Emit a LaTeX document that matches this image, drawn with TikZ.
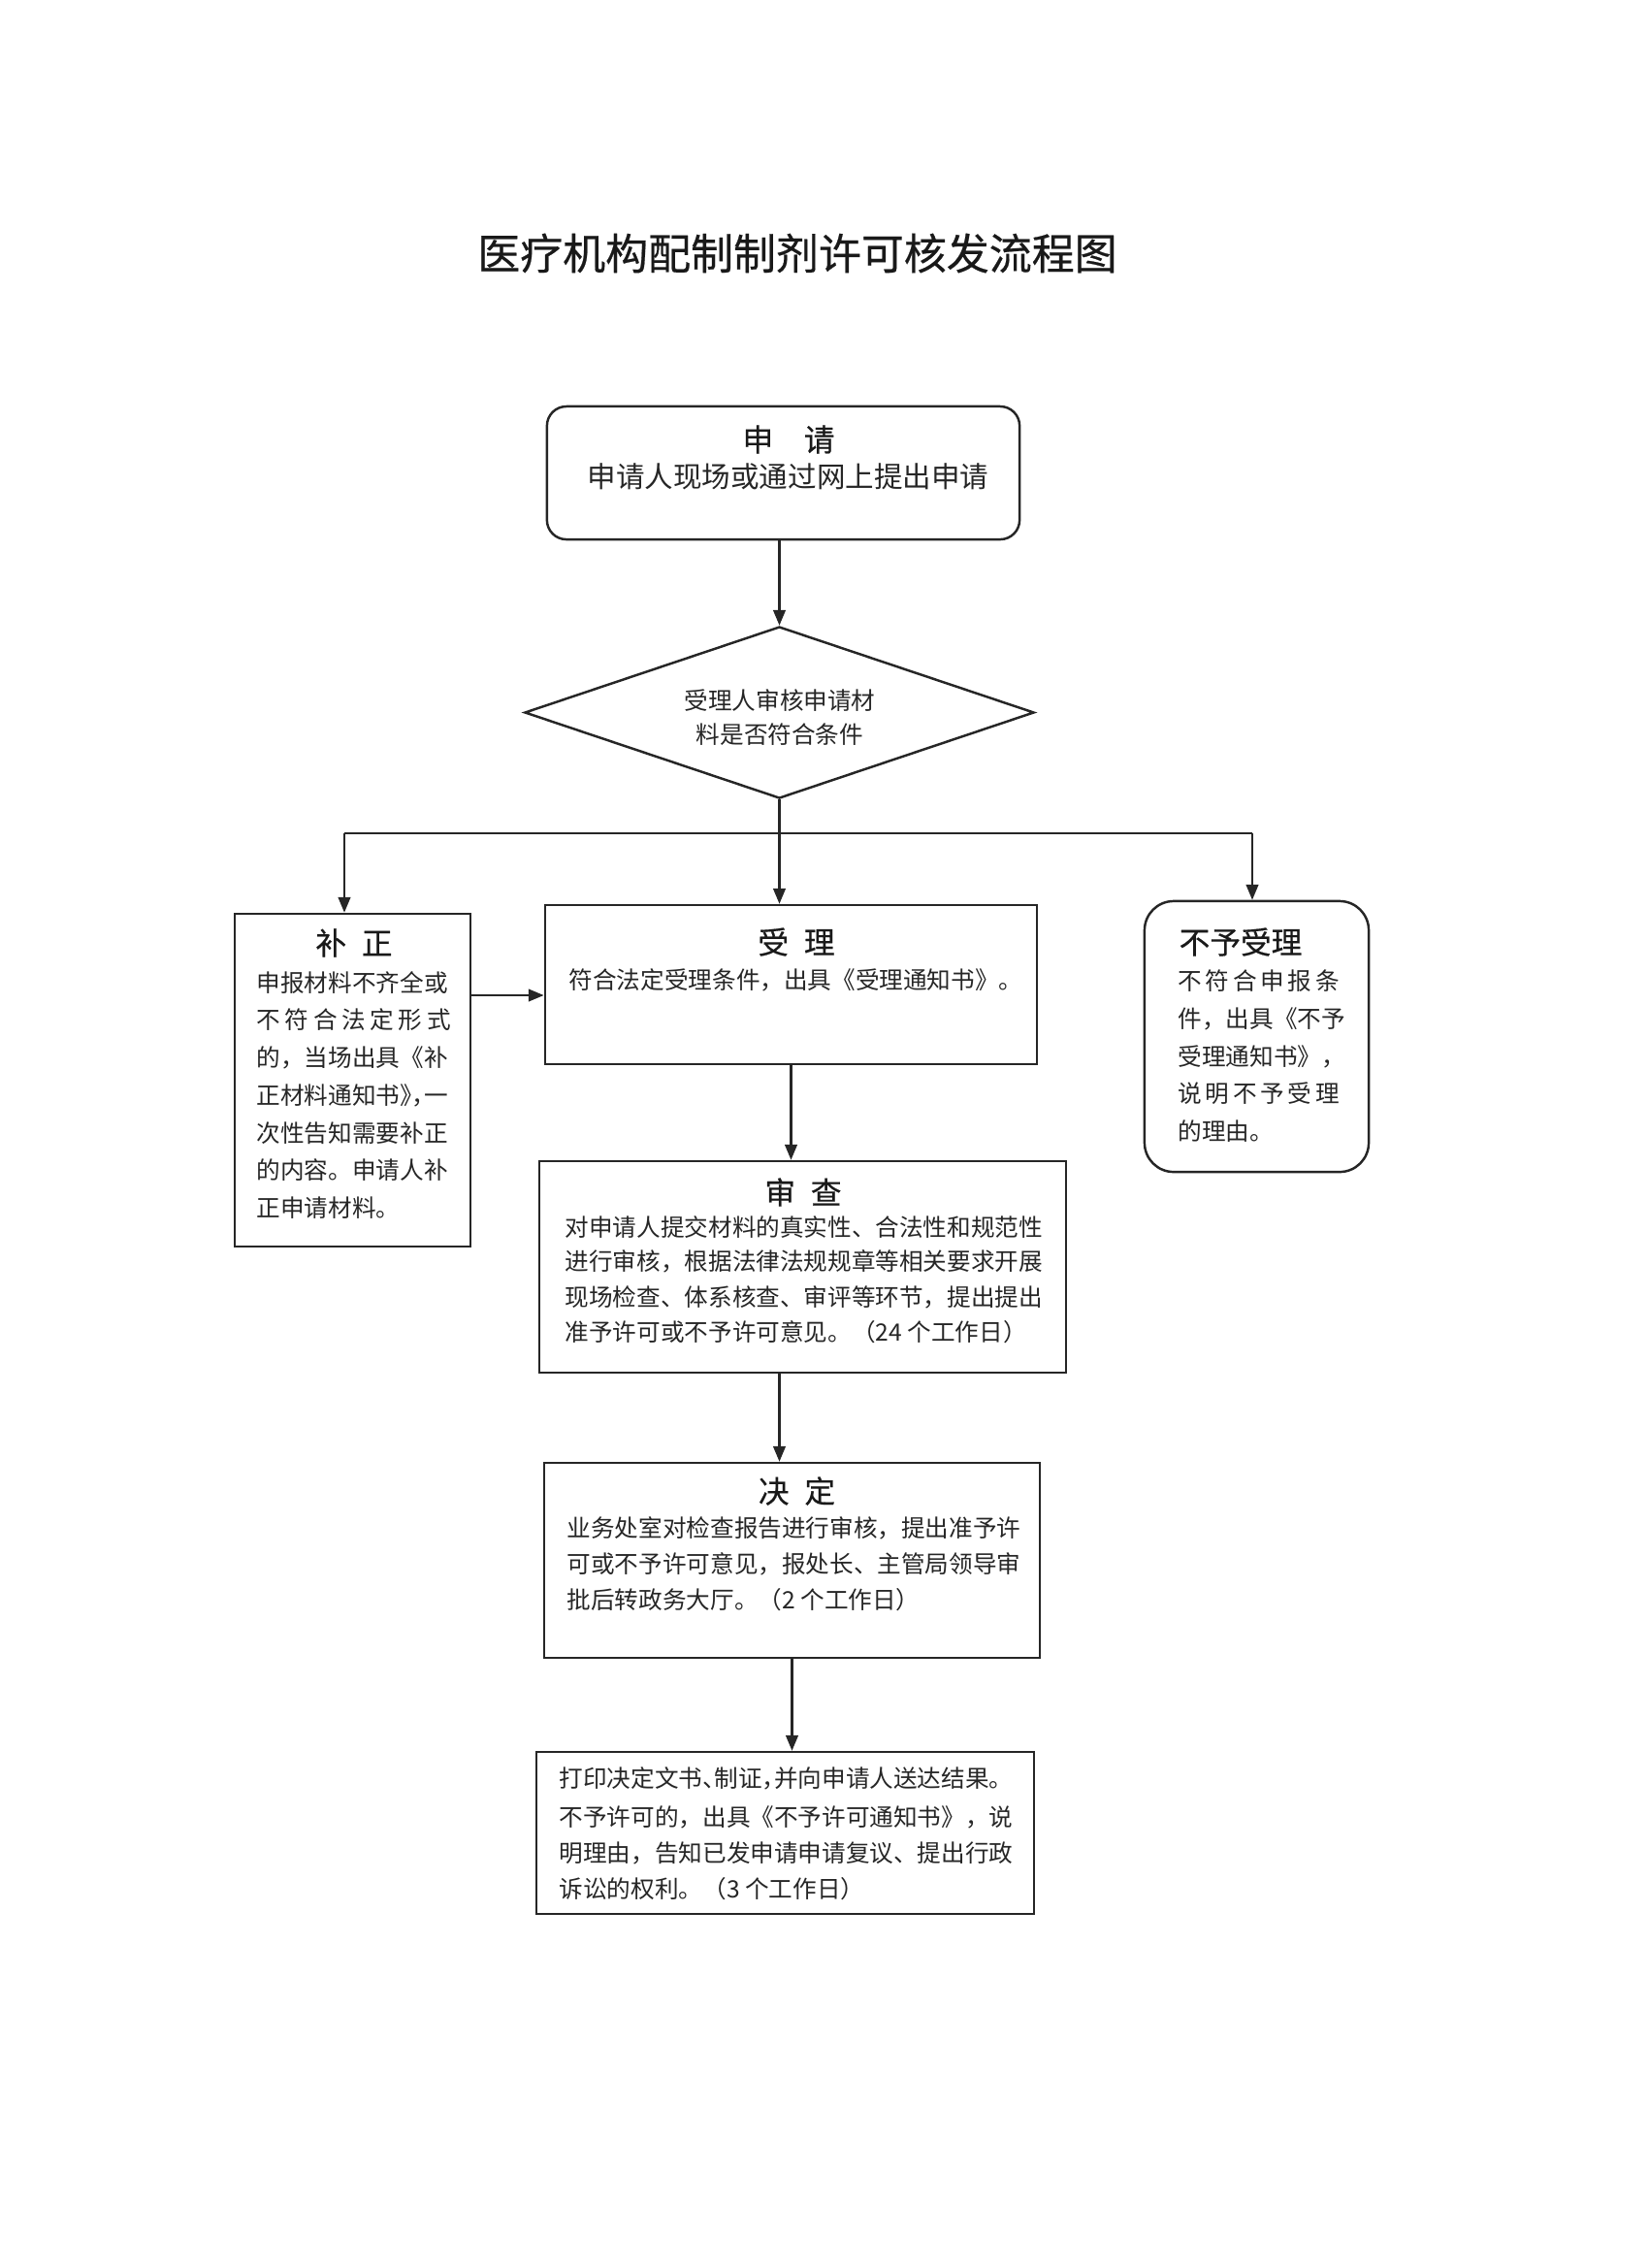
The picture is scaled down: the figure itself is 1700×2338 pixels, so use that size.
\documentclass[tikz,border=0pt]{standalone}
\usepackage{fontspec}
\setmainfont{Noto Sans CJK SC}
\newfontfamily\halffont[RawFeature=+halt]{Noto Sans CJK SC}
\newfontfamily\headfont[FakeBold=0.5]{Noto Sans CJK SC}
\usetikzlibrary{arrows.meta,shapes.geometric}

\tikzset{
  box/.style={draw=black!85, line width=0.7pt, inner sep=0pt},
  rbox/.style={box, rounded corners=0.2cm},
  line/.style={draw=black!85, line width=0.6pt},
  arr/.style={line, -{Triangle[length=4.5pt,width=3.6pt]}},
  body/.style={font=\fontsize{7}{9}\selectfont, inner sep=0pt, anchor=west, text=black!85},
  head/.style={font=\headfont\fontsize{9}{11}\selectfont, inner sep=0pt, text=black!90},
}

\begin{document}
\begin{tikzpicture}[x=0.01cm, y=-0.01cm]
  \useasboundingbox (0,0) rectangle (1700,2338);

  % 标题
  \node[font=\headfont\fontsize{12.5}{15}\selectfont, text=black!90] (title) at (822,261)
       {医疗机构配制制剂许可核发流程图};

  % 申请
  \node[rbox, minimum width=4.87cm, minimum height=1.37cm] (shenqing) at (807.5,487.5) {};
  \node[head] (shenqing-h) at (813,453) {申\hspace{1em}请};
  \node[body, anchor=center, font=\fontsize{8.4}{10}\selectfont] (shenqing-t) at (812.5,491)
       {申请人现场或通过网上提出申请};

  % 审核判断
  \node[box, diamond, minimum width=5.25cm, minimum height=1.77cm] (panduan) at (803.5,734.5) {};
  \node[body, anchor=center] (panduan-1) at (804,722) {受理人审核申请材};
  \node[body, anchor=center] (panduan-2) at (804,757) {料是否符合条件};

  % 补正
  \node[box, minimum width=2.43cm, minimum height=3.43cm] (buzheng) at (363.5,1113.5) {};
  \node[head] (buzheng-h) at (365,972) {补\hspace{0.5em}正};
  \foreach \yy/\t [count=\i] in {1013/申报材料不齐全或,
      1051/{\makebox[2cm][s]{不 符 合 法 定 形 式}},
      1090/{的，当场出具《补},
      1129/{\halffont 正材料通知书》，一},
      1168/次性告知需要补正,
      1206/的内容。申请人补,
      1245/正申请材料。}
    \node[body] (buzheng-\i) at (264,\yy) {\t};

  % 受理
  \node[box, minimum width=5.07cm, minimum height=1.64cm] (shouli) at (815.5,1015) {};
  \node[head] (shouli-h) at (821,971) {受\hspace{0.5em}理};
  \node[body] (shouli-t) at (586,1010) {符合法定受理条件，出具《受理通知书》。};

  % 不予受理
  \node[box, rounded corners=0.3cm, minimum width=2.31cm, minimum height=2.79cm] (buyu) at (1295.5,1068.5) {};
  \node[head, anchor=west] (buyu-h) at (1215,971) {不予受理};
  \foreach \yy/\t [count=\i] in {1011/{\makebox[1.64cm][s]{不 符 合 申 报 条}},
      1050/{件，出具《不予},
      1089/{受理通知书》，},
      1127/{\makebox[1.64cm][s]{说 明 不 予 受 理}},
      1166/的理由。}
    \node[body] (buyu-\i) at (1214,\yy) {\t};

  % 审查
  \node[box, minimum width=5.43cm, minimum height=2.18cm] (shencha) at (827.5,1306) {};
  \node[head] (shencha-h) at (828,1229) {审\hspace{0.5em}查};
  \foreach \yy/\t [count=\i] in {1265/对申请人提交材料的真实性、合法性和规范性,
      1300/进行审核，根据法律法规规章等相关要求开展,
      1337/现场检查、体系核查、审评等环节，提出提出,
      1373/准予许可或不予许可意见。（24 个工作日）}
    \node[body] (shencha-\i) at (582,\yy) {\t};

  % 决定
  \node[box, minimum width=5.11cm, minimum height=2.01cm] (jueding) at (816.5,1608.5) {};
  \node[head] (jueding-h) at (821.5,1537) {决\hspace{0.5em}定};
  \foreach \yy/\t [count=\i] in {1575/业务处室对检查报告进行审核，提出准予许,
      1612/可或不予许可意见，报处长、主管局领导审,
      1649/批后转政务大厅。（2 个工作日）}
    \node[body] (jueding-\i) at (584,\yy) {\t};

  % 送达结果
  \node[box, minimum width=5.13cm, minimum height=1.67cm] (jieguo) at (809.5,1889.5) {};
  \foreach \yy/\t [count=\i] in {1833/{\halffont 打印决定文书、制证，并向申请人送达结果。},
      1873/不予许可的，出具《不予许可通知书》，说,
      1910/明理由，告知已发申请申请复议、提出行政,
      1947/诉讼的权利。（3 个工作日）}
    \node[body] (jieguo-\i) at (576,\yy) {\t};

  % 连线
  \coordinate (fl) at (355,859);
  \coordinate (fr) at (1291,859);
  \draw[arr] (shenqing.south -| panduan.north) -- (panduan.north);
  \draw[line] (panduan.south) -- (panduan.south |- fl);
  \draw[line] (fl) -- (fr);
  \draw[arr] (panduan.south |- fl) -- (panduan.south |- shouli.north);
  \draw[arr] (fl) -- (fl |- buzheng.north);
  \draw[arr] (fr) -- (fr |- buyu.north);
  \draw[arr] (buzheng.east |- 0,1026) -- (shouli.west |- 0,1026);
  \draw[arr] (shouli.south) -- (shouli.south |- shencha.north);
  \draw[arr] (shencha.south -| panduan.south) -- (panduan.south |- jueding.north);
  \draw[arr] (jueding.south) -- (jueding.south |- jieguo.north);
\end{tikzpicture}
\end{document}
